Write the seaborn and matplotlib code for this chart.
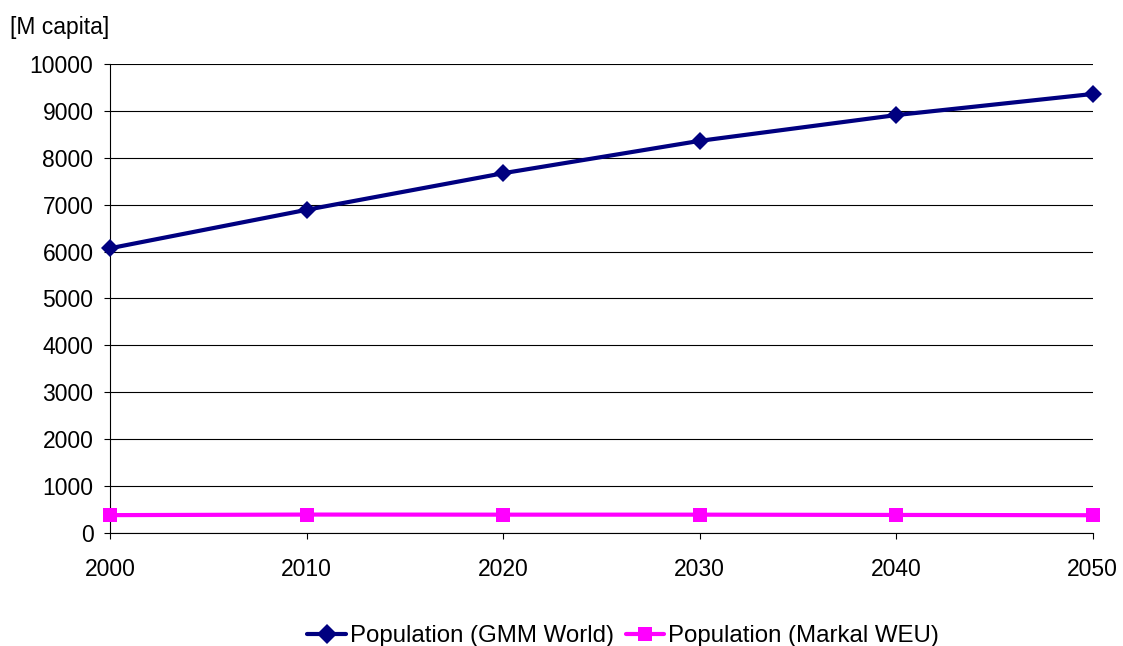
import pandas as pd
import matplotlib.pyplot as plt
import seaborn as sns

# data
years = [2000, 2010, 2020, 2030, 2040, 2050]
gmm_world = [6070, 6890, 7670, 8360, 8910, 9360]
markal_weu = [380, 392, 390, 390, 384, 378]

df = pd.DataFrame({
    "Year": years * 2,
    "Population": gmm_world + markal_weu,
    "Series": ["Population (GMM World)"] * 6 + ["Population (Markal WEU)"] * 6,
})

sns.set_style("white")
plt.rcParams['font.family'] = ['Liberation Sans', 'DejaVu Sans']
plt.rcParams['text.color'] = 'black'
plt.rcParams['xtick.color'] = 'black'
plt.rcParams['ytick.color'] = 'black'

FS = 16.5

fig = plt.figure(figsize=(11.23, 6.46), dpi=100)
ax = fig.add_axes([0.098, 0.175, 0.875, 0.726])

sns.lineplot(data=df, x="Year", y="Population", hue="Series", style="Series",
             palette=["#000080", "#FF00FF"], markers=["D", "s"], dashes=False,
             markersize=10, markeredgewidth=0, linewidth=3, ax=ax, legend=True)
# smaller diamond
ax.lines[0].set_markersize(9)
for ln in ax.lines:
    ln.set_clip_on(False)
    ln.set_zorder(5)

ax.set_xlim(2000, 2050)
ax.set_ylim(0, 10000)
ax.set_xticks(years)
ax.set_yticks(range(0, 10001, 1000))
ax.tick_params(axis="both", labelsize=FS, length=4, width=0.8, direction="out",
               colors="black", bottom=True, left=True)
ax.tick_params(axis="x", pad=14)
ax.tick_params(axis="y", pad=8)
ax.set_xlabel("")
ax.set_ylabel("")
ax.grid(axis="y", color="black", linewidth=0.8)
for side in ["top", "right"]:
    ax.spines[side].set_visible(False)
for side in ["left", "bottom"]:
    ax.spines[side].set_color("black")
    ax.spines[side].set_linewidth(0.8)

fig.text(0.009, 0.958, "[M capita]", fontsize=FS, ha="left", va="center")

handles, labels = ax.get_legend_handles_labels()
ax.legend(handles, labels, loc="center", bbox_to_anchor=(0.522, -0.22),
          ncol=2, frameon=False, fontsize=17.3, handlelength=1.6,
          handletextpad=0.15, columnspacing=0.5, borderaxespad=0)

fig.savefig("out.png", dpi=100)
